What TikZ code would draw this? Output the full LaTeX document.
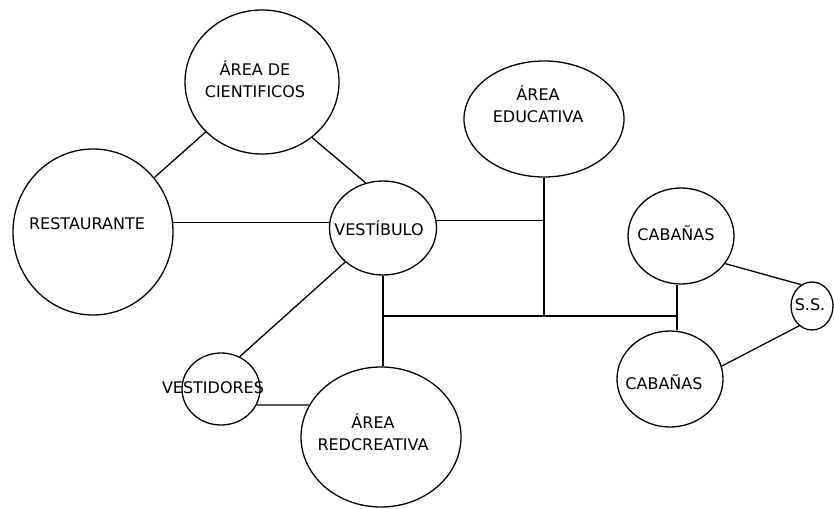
\documentclass[tikz,border=0pt]{standalone}
\usepackage{fontspec}
\setmainfont{DejaVu Sans}
\usetikzlibrary{shapes.geometric}
\definecolor{ink}{HTML}{000000}

\tikzset{
  zona/.style={ellipse,draw=ink,line width=1.3pt,inner sep=0pt},
  rotulo/.style={align=center,text=ink,inner sep=0pt},
  enlace/.style={draw=ink,line width=1.3pt},
}

\begin{document}
\begin{tikzpicture}[x=1pt,y=-1pt,font=\fontsize{16}{21.5}\selectfont,line join=round]
  \useasboundingbox (0,0) rectangle (834,508);

  % Zonas
  \node[zona,minimum width=154,minimum height=144] (cient) at (262,82) {};
  \node[zona,minimum width=160,minimum height=166] (rest) at (93,232) {};
  \node[zona,minimum width=107,minimum height=94] (vest) at (383,228) {};
  \node[zona,minimum width=160,minimum height=116] (educ) at (544,119) {};
  \node[zona,minimum width=106,minimum height=96] (cab1) at (681,236) {};
  \node[zona,minimum width=106,minimum height=96] (cab2) at (670,379) {};
  \node[zona,minimum width=42,minimum height=48] (ss) at (812,306) {};
  \node[zona,minimum width=78,minimum height=72] (vstd) at (221,389) {};
  \node[zona,minimum width=160,minimum height=140] (redc) at (381,437) {};

  % Rotulos
  \node[rotulo] (cient-t) at (255,79) {ÁREA DE\\CIENTIFICOS};
  \node[rotulo] (rest-t) at (87,224) {RESTAURANTE};
  \node[rotulo] (vest-t) at (379,228) {VESTÍBULO};
  \node[rotulo] (educ-t) at (538,104) {ÁREA\\EDUCATIVA};
  \node[rotulo] (cab1-t) at (676,233) {CABAÑAS};
  \node[rotulo] (cab2-t) at (664,382) {CABAÑAS};
  \node[rotulo] (ss-t) at (810,305) {S.S.};
  \node[rotulo] (vstd-t) at (213,388) {VESTIDORES};
  \node[rotulo] (redc-t) at (373,432) {ÁREA\\REDCREATIVA};

  % Enlaces
  \coordinate (busw) at (383,316);
  \coordinate (buse) at (677,316);
  \draw[enlace] (cient) -- (rest);
  \draw[enlace] (cient.-48) -- (vest.111);
  \draw[enlace] (rest.7) -- (rest.7 -| vest.west);
  \draw[enlace] (vest.8) -- (vest.8 -| educ.south);
  \draw[enlace] (educ.south) -- (educ.south |- busw);
  \draw[enlace] (busw) -- (buse);
  \draw[enlace] (vest.south) -- (vest.south |- redc.north);
  \draw[enlace] (buse |- cab1.south) -- (buse |- cab2.north);
  \draw[enlace] (cab1.-32) -- (ss.117);
  \draw[enlace] (cab2.14) -- (ss.237);
  \draw[enlace] (vest.222) -- (vstd.60);
  \draw[enlace] (vstd.-24) -- (redc.156);
\end{tikzpicture}
\end{document}
